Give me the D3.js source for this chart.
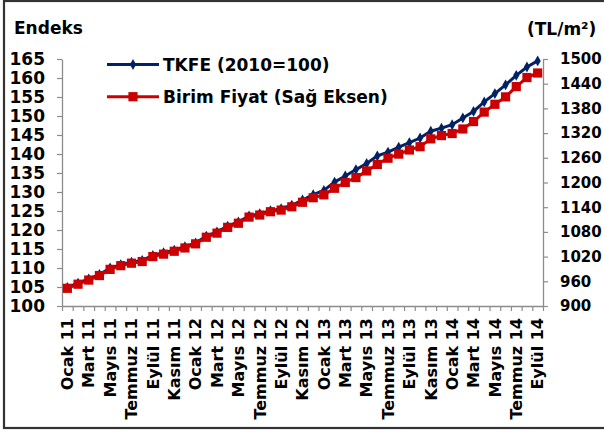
<!DOCTYPE html>
<html><head><meta charset="utf-8">
<script src="https://cdn.jsdelivr.net/npm/d3@7"></script>
<style>
html,body{margin:0;padding:0;background:#fff;}
svg text{font-family:"DejaVu Sans",Verdana,sans-serif;font-weight:bold;fill:#000;}
</style></head>
<body>
<svg id="c" width="604" height="432"></svg>
<script>
const monthNames = ["Ocak","Şubat","Mart","Nisan","Mayıs","Haziran","Temmuz","Ağustos","Eylül","Ekim","Kasım","Aralık"];
const years = ["11","12","13","14"];
const categories = [];
years.forEach(y => monthNames.forEach(m => categories.push(m + " " + y)));
categories.splice(45);

const tkfe = [104.9,106.0,107.1,108.3,110.0,110.9,111.5,112.0,113.3,114.0,114.7,115.6,
  116.6,118.4,119.5,121.0,122.1,123.7,124.3,125.1,125.6,126.5,127.9,129.3,
  130.4,132.6,134.2,135.9,137.5,139.5,140.5,141.8,143.0,144.2,146.0,146.8,
  147.7,149.5,151.2,153.7,155.9,158.2,160.7,162.9,164.5];
const birimFiyat = [943,953,963,974,989,998,1004,1008,1020,1026,1033,1041,
  1051,1067,1077,1091,1101,1116,1121,1129,1133,1141,1152,1163,
  1170,1186,1200,1212,1228,1244,1259,1269,1279,1287,1306,1314,
  1319,1330,1348,1371,1390,1408,1433,1455,1466];
const leftTicks = d3.range(100, 166, 5);
const rightTicks = d3.range(900, 1501, 60);
const seriesNames = ["TKFE (2010=100)", "Birim Fiyat (Sağ Eksen)"];

const svg = d3.select("#c");
const L = 62, R = 543, T = 59, B = 306;
const x = d3.scaleBand().domain(categories).range([L, R]);
const xEdge = d3.scaleLinear().domain([0, categories.length]).range([L, R]);
const yL = d3.scaleLinear().domain([100, 165]).range([B, T]);
const yR = d3.scaleLinear().domain([900, 1500]).range([B, T]);
const cx = d => x(d) + x.bandwidth() / 2;

// frame
svg.append("rect").attr("x", 4).attr("y", 1).attr("width", 620).attr("height", 427)
  .attr("fill", "none").attr("stroke", "#333").attr("stroke-width", 2.2);

const axisColor = "#8c8c8c";
function styleAxis(g) {
  g.select(".domain").attr("stroke", axisColor).attr("stroke-width", 1.3);
  g.selectAll(".tick line").attr("stroke", axisColor).attr("stroke-width", 1.2);
}

// left axis
const gl = svg.append("g").attr("transform", `translate(${L},0)`)
  .call(d3.axisLeft(yL).tickValues(leftTicks).tickFormat(d3.format("d")).tickSize(5).tickPadding(12).tickSizeOuter(0));
gl.selectAll("text").attr("font-size", 17).style("font-family", "DejaVu Sans");
styleAxis(gl);

// right axis
const gr = svg.append("g").attr("transform", `translate(${R},0)`)
  .call(d3.axisRight(yR).tickValues(rightTicks).tickFormat(d3.format("d")).tickSize(5).tickPadding(12).tickSizeOuter(0));
gr.selectAll("text").attr("font-size", 15).style("font-family", "DejaVu Sans");
styleAxis(gr);

// x axis ticks at category edges
const gxt = svg.append("g").attr("transform", `translate(0,${B})`)
  .call(d3.axisBottom(xEdge).tickValues(d3.range(categories.length + 1)).tickSize(5).tickFormat("").tickSizeOuter(0));
styleAxis(gxt);

// x labels
const gx = svg.append("g").attr("transform", `translate(0,${B})`)
  .call(d3.axisBottom(x).tickValues(categories.filter((d, i) => i % 2 === 0)).tickSize(0));
gx.select(".domain").remove();
gx.selectAll("text").attr("font-size", 16).style("font-family", "DejaVu Sans")
  .attr("transform", "rotate(-90)").attr("text-anchor", "end")
  .attr("x", -12).attr("y", 0).attr("dy", "0.36em");

// lines
const blue = "#002366", red = "#cc0000";
const lineL = d3.line().x((d, i) => cx(categories[i])).y(d => yL(d));
const lineR = d3.line().x((d, i) => cx(categories[i])).y(d => yR(d));
const diamond = d3.symbol().type(d3.symbolDiamond).size(34);

svg.append("path").datum(tkfe).attr("d", lineL).attr("fill", "none")
  .attr("stroke", blue).attr("stroke-width", 3);
svg.append("g").selectAll("path").data(tkfe).join("path")
  .attr("transform", (d, i) => `translate(${cx(categories[i])},${yL(d)})`)
  .attr("d", diamond).attr("fill", blue);

svg.append("path").datum(birimFiyat).attr("d", lineR).attr("fill", "none")
  .attr("stroke", red).attr("stroke-width", 3);
svg.append("g").selectAll("rect").data(birimFiyat).join("rect")
  .attr("x", (d, i) => cx(categories[i]) - 4.6).attr("y", d => yR(d) - 4.6)
  .attr("width", 9.2).attr("height", 9.2).attr("fill", red);

// legend
const lg = svg.append("g");
const rows = [{y: 64.5, c: blue, t: seriesNames[0], m: "d"}, {y: 96.7, c: red, t: seriesNames[1], m: "s"}];
rows.forEach(r => {
  lg.append("line").attr("x1", 107).attr("x2", 159).attr("y1", r.y).attr("y2", r.y)
    .attr("stroke", r.c).attr("stroke-width", 3);
  if (r.m === "d") lg.append("path").attr("transform", `translate(133,${r.y})`).attr("d", diamond).attr("fill", r.c);
  else lg.append("rect").attr("x", 128.4).attr("y", r.y - 4.6).attr("width", 9.2).attr("height", 9.2).attr("fill", r.c);
  lg.append("text").attr("x", 163).attr("y", r.y + 6).attr("font-size", 17).text(r.t);
});

svg.append("text").attr("x", 14).attr("y", 34).attr("font-size", 17).text("Endeks");
svg.append("text").attr("x", 527).attr("y", 35).attr("font-size", 17).text("(TL/m²)");
</script>
</body></html>
